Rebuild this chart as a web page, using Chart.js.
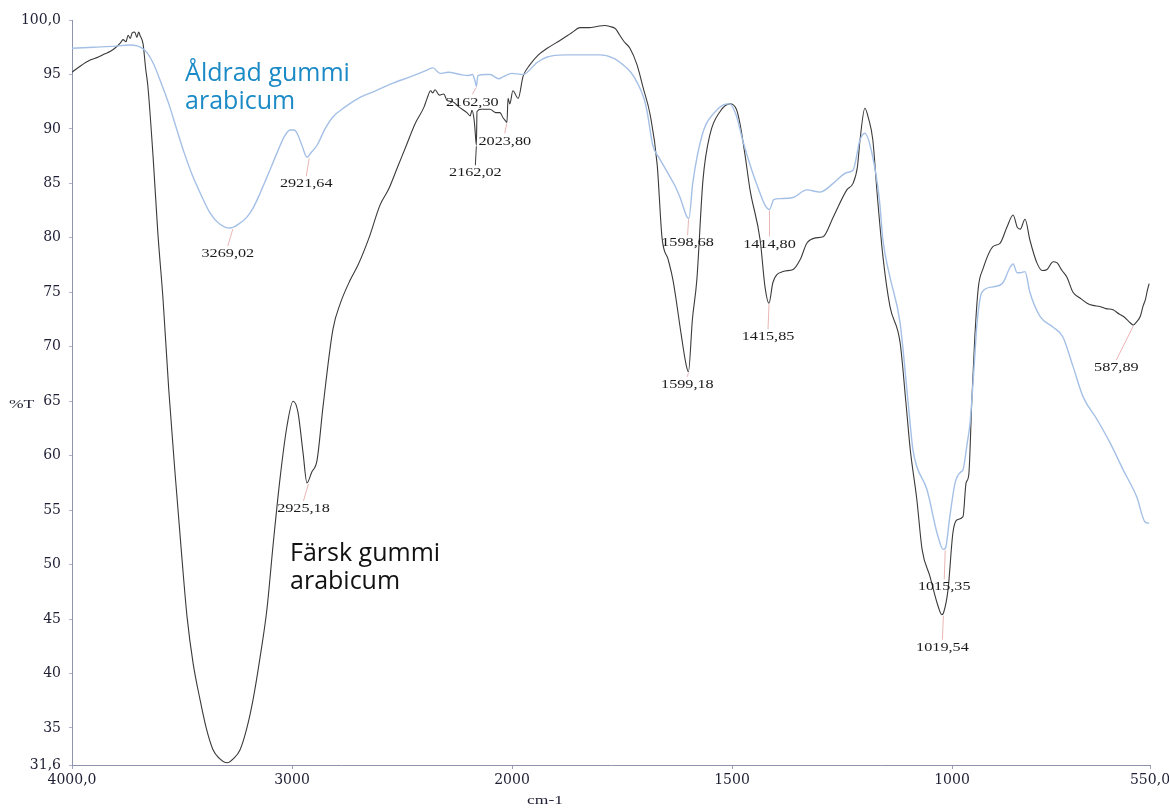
<!DOCTYPE html>
<html>
<head>
<meta charset="utf-8">
<script src="https://cdn.jsdelivr.net/npm/chart.js@4"></script>
<style>
  html, body { margin: 0; padding: 0; background: #ffffff; }
  #wrap { width: 1169px; height: 812px; }
</style>
</head>
<body>
<div id="wrap"><canvas id="c" width="1169" height="812"></canvas></div>
<script>
// ---- Data (wavenumber cm-1 / %T) ----
const freshWn = [4000,3960,3920,3880,3850,3827,3800,3780,3768,3755,3745,3735,3727,3715,3705,3697,3691,3677,3665,3655,3630,3610,3586,3560,3530,3500,3477,3450,3418,3390,3359,3330,3295,3265,3236,3205,3177,3145,3114,3085,3055,3023,2995,2973,2950,2932,2910,2886,2859,2814,2780,2736,2700,2650,2600,2560,2520,2480,2440,2400,2386,2370,2360,2350,2330,2310,2295,2270,2240,2205,2190,2182,2172,2168,2162,2159,2140,2120,2100,2075,2055,2040,2032,2023,2018,2010,1998,1986,1975,1959,1940,1920,1900,1884,1865,1845,1825,1807,1790,1777,1765,1755,1745,1732,1716,1702,1686,1670,1659,1645,1634,1615,1605,1599,1590,1580,1566,1550,1527,1505,1490,1482,1470,1459,1436,1425,1416,1407,1384,1361,1345,1330,1310,1293,1270,1239,1225,1215,1209,1198,1190,1180,1170,1157,1141,1118,1105,1095,1080,1068,1050,1034,1023,1019,1009,998,989,975,968,962,955,948,940,930,907,891,875,861,852,845,834,823,807,795,784,770,761,750,739,725,710,693,680,664,650,634,620,611,600,595,588,580,572,566,560,557,552];
const freshT  = [95.2,95.8,96.3,96.6,96.9,97.1,97.5,97.9,98.2,98.0,98.6,98.3,98.8,98.9,98.4,98.9,98.6,97.8,95.5,93.9,87.0,80.5,74.3,66.0,58.0,50.5,45.2,41.0,37.6,35.0,33.0,32.2,31.8,32.2,33.0,35.0,37.6,41.5,45.9,52.0,57.8,62.7,65.0,64.0,60.3,57.5,58.5,59.6,64.5,71.6,74.0,76.1,77.5,80.0,83.0,84.5,86.5,88.5,90.5,92.0,92.8,93.5,93.3,93.6,93.1,93.2,92.6,92.5,92.0,91.5,91.2,91.7,90.8,89.9,88.5,91.6,91.8,91.8,91.8,91.5,91.5,91.0,90.8,90.6,92.8,92.3,93.5,92.8,94.8,95.9,96.8,97.4,97.9,98.3,98.8,99.3,99.3,99.4,99.5,99.4,99.2,98.6,98.0,97.4,95.9,93.8,91.3,86.7,80.0,78.0,76.1,71.0,68.5,67.7,72.5,76.1,85.3,89.5,91.6,92.3,91.8,90.5,87.5,84.4,79.8,75.5,74.0,75.9,76.9,77.1,78.0,79.5,80.0,80.1,81.9,84.4,85.0,86.5,89.0,91.9,91.0,89.0,84.0,78.3,73.7,70.4,65.0,60.6,56.0,51.4,48.9,46.5,45.4,45.6,47.7,52.9,54.1,54.4,57.5,58.2,65.0,71.0,75.5,77.1,79.2,79.5,81.0,82.1,81.0,80.8,81.7,79.8,77.7,77.0,77.1,77.8,77.7,77.0,76.4,75.0,74.5,74.0,73.8,73.7,73.5,73.4,73.0,72.8,72.4,72.2,72.0,72.3,72.8,73.7,74.4,75.0,75.8];

const agedWn = [4000,3900,3800,3740,3700,3680,3659,3630,3600,3560,3523,3490,3450,3410,3373,3330,3282,3240,3205,3175,3145,3105,3068,3035,3009,2990,2977,2955,2932,2910,2886,2850,2814,2760,2691,2620,2541,2460,2386,2360,2327,2290,2236,2200,2180,2168,2162,2155,2120,2100,2060,2040,2000,1975,1943,1920,1880,1845,1800,1770,1748,1730,1716,1700,1693,1680,1665,1648,1630,1618,1602,1598,1589,1566,1540,1520,1505,1490,1476,1455,1440,1425,1415,1405,1390,1361,1330,1300,1270,1239,1225,1209,1198,1180,1165,1157,1141,1118,1100,1089,1080,1057,1034,1020,1015,1005,993,980,975,966,959,950,943,932,907,884,868,861,852,845,834,823,800,770,748,725,702,670,641,611,580,561,552];
const agedT  = [97.4,97.5,97.6,97.7,97.6,97.4,97.0,96.0,94.5,92.3,89.9,87.8,85.6,83.8,82.3,81.3,80.9,81.3,81.9,82.8,84.1,86.0,87.8,89.3,89.9,89.9,89.6,88.5,87.4,87.9,88.5,90.0,91.1,92.0,92.9,93.5,94.2,94.8,95.4,95.6,95.1,95.2,95.0,94.9,95.0,94.4,93.9,94.9,95.0,95.0,94.6,94.8,95.1,95.0,96.1,96.6,96.8,96.8,96.8,96.5,95.9,95.2,94.3,92.8,91.6,88.5,87.3,86.1,84.8,83.7,81.9,81.8,85.1,89.7,91.5,92.2,92.3,91.2,89.0,86.2,84.5,83.0,82.6,83.5,83.6,83.7,84.4,84.2,85.0,86.0,86.2,89.0,89.6,87.4,83.5,79.8,76.4,72.2,65.0,60.6,59.0,56.9,52.9,51.4,51.5,54.4,57.5,58.5,58.7,61.0,63.0,68.0,72.2,75.0,75.5,75.9,77.3,77.6,76.8,76.8,76.9,75.0,72.8,71.8,70.9,68.2,65.4,63.3,61.2,58.7,56.2,53.9,53.8];

// axis ticks
const xTickWn = [4000, 3000, 2000, 1500, 1000, 550];
const xTickLabels = ["4000,0", "3000", "2000", "1500", "1000", "550,0"];
const yTickValues = [31.6, 35, 40, 45, 50, 55, 60, 65, 70, 75, 80, 85, 90, 95, 100];
const yTickLabels = ["31,6", "35", "40", "45", "50", "55", "60", "65", "70", "75", "80", "85", "90", "95", "100,0"];

// peak annotations
const peakText   = ["3269,02","2921,64","2925,18","2162,30","2162,02","2023,80","1598,68","1599,18","1414,80","1415,85","1015,35","1019,54","587,89"];
const peakWn     = [3269.02, 2921.64, 2925.18, 2162.30, 2162.02, 2023.80, 1598.68, 1599.18, 1414.80, 1415.85, 1015.35, 1019.54, 587.89];
const peakT      = [80.9, 87.4, 57.5, 93.9, 88.5, 90.6, 81.8, 67.7, 82.6, 74.0, 51.4, 45.4, 72.0];

// series labels
const seriesNames = [["Åldrad gummi", "arabicum"], ["Färsk gummi", "arabicum"]];
const seriesLabelAt = [[3486, 94.4], [3009, 50.3]]; // wavenumber, %T of first baseline

// piecewise axis (scale doubles below 2000 cm-1)
function toU(w) { return w >= 2000 ? 4000 - w : 2000 + 2 * (2000 - w); }
function pts(wn, t) { return wn.map((w, i) => ({ x: toU(w), y: t[i] })); }

const serif = "'Liberation Serif', 'DejaVu Serif', serif";
const tickSerif = "'DejaVu Serif', 'Liberation Serif', serif";
const sans = "'Open Sans', 'Noto Sans', sans-serif";

// label layout (offsets in px below the peak)
const peakDy = [26, 27, 26, 16, 28, 19, 25, 13, 35, 34, 38, 33, 43];
const peakDx = [-5, -3, -5, -4, -1, -2, -1, -1, 0, -1, -1, -1, -17];

function stretchText(ctx, txt, x, y, sx) {
  ctx.save();
  ctx.translate(x, y);
  ctx.scale(sx, 1);
  ctx.fillText(txt, 0, 0);
  ctx.restore();
}

const annot = {
  id: 'annot',
  afterDatasetsDraw(chart) {
    const ctx = chart.ctx, xs = chart.scales.x, ys = chart.scales.y;
    ctx.save();
    // leader lines
    for (let i = 0; i < peakText.length; i++) {
      const px = xs.getPixelForValue(toU(peakWn[i]));
      const py = ys.getPixelForValue(peakT[i]);
      ctx.strokeStyle = (i === 4) ? 'rgba(40,40,40,0.9)' : 'rgba(225,150,150,0.7)';
      ctx.lineWidth = 1;
      ctx.beginPath();
      ctx.moveTo(px, py + 1);
      ctx.lineTo(px + peakDx[i], py + peakDy[i] - 8);
      ctx.stroke();
    }
    ctx.fillStyle = '#1c1c1c';
    ctx.font = "12px " + serif;
    ctx.textAlign = 'center';
    ctx.textBaseline = 'middle';
    for (let i = 0; i < peakText.length; i++) {
      const px = xs.getPixelForValue(toU(peakWn[i]));
      const py = ys.getPixelForValue(peakT[i]);
      stretchText(ctx, peakText[i], px + peakDx[i], py + peakDy[i], 1.35);
    }
    // series names
    ctx.font = "25px " + sans;
    ctx.textAlign = 'left';
    ctx.textBaseline = 'alphabetic';
    const cols = ['#1b8ac6', '#111111'];
    for (let s = 0; s < 2; s++) {
      const x0 = xs.getPixelForValue(toU(seriesLabelAt[s][0]));
      const y0 = ys.getPixelForValue(seriesLabelAt[s][1]);
      ctx.fillStyle = cols[s];
      seriesNames[s].forEach((ln, k) => ctx.fillText(ln, x0, y0 + k * 28));
    }
    // axis titles
    ctx.fillStyle = '#1e1e34';
    ctx.font = "13px " + serif;
    ctx.textBaseline = 'middle';
    ctx.textAlign = 'left';
    stretchText(ctx, '%T', 9, ys.getPixelForValue(65) + 3, 1.35);
    ctx.textAlign = 'center';
    stretchText(ctx, 'cm-1', xs.getPixelForValue(toU(1925)), 801, 1.35);
    ctx.restore();
  }
};

new Chart(document.getElementById('c'), {
  type: 'line',
  data: {
    datasets: [
      { label: 'Åldrad gummi arabicum', data: pts(agedWn, agedT), borderColor: '#a5c0e6', borderWidth: 1.4, pointRadius: 0, cubicInterpolationMode: 'monotone', fill: false },
      { label: 'Färsk gummi arabicum', data: pts(freshWn, freshT), borderColor: '#3a3a3a', borderWidth: 1.1, pointRadius: 0, cubicInterpolationMode: 'monotone', fill: false }
    ]
  },
  options: {
    responsive: false,
    devicePixelRatio: 1,
    animation: false,
    events: [],
    layout: { padding: { top: 20, right: 19, left: 0, bottom: 0 } },
    plugins: { legend: { display: false }, tooltip: { enabled: false } },
    scales: {
      x: {
        type: 'linear', min: 0, max: toU(550),
        afterBuildTicks(s) { s.ticks = xTickWn.map(w => ({ value: toU(w) })); },
        afterFit(s) { s.height = 47; s.paddingLeft = 0; s.paddingRight = 0; },
        ticks: {
          autoSkip: false, maxRotation: 0, padding: 3,
          color: '#1e1e34', font: { family: tickSerif, size: 14 },
          callback: (v, i) => xTickLabels[i]
        },
        grid: { display: true, drawOnChartArea: false, tickLength: 4, color: '#9aa0b8' },
        border: { display: true, color: '#8d93ad', width: 1 }
      },
      y: {
        type: 'linear', min: 31.6, max: 100,
        afterBuildTicks(s) { s.ticks = yTickValues.map(v => ({ value: v })); },
        afterFit(s) { s.width = 72; s.paddingTop = 0; s.paddingBottom = 0; },
        ticks: {
          autoSkip: false, padding: 8,
          color: '#1e1e34', font: { family: tickSerif, size: 14 },
          callback: (v, i) => yTickLabels[i]
        },
        grid: { display: true, drawOnChartArea: false, tickLength: 3, color: '#b0b4c8' },
        border: { display: true, color: '#8d93ad', width: 1 }
      }
    }
  },
  plugins: [annot]
});
</script>
</body>
</html>
